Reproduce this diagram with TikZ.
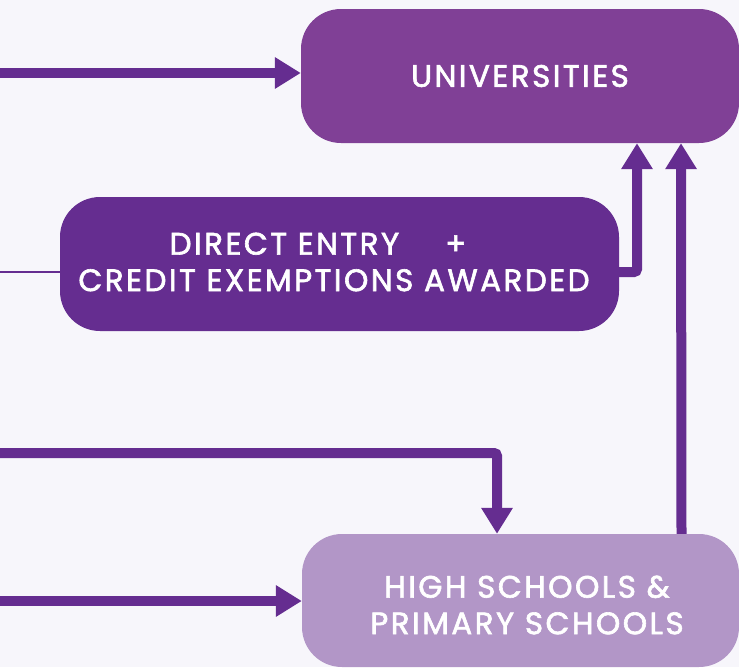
\documentclass[tikz,border=0pt]{standalone}
\usepackage{fontspec}
\setmainfont{Poppins}[LetterSpace=8,FakeBold=2]
\usetikzlibrary{arrows.meta}
\definecolor{bg}{HTML}{F7F6FB}
\definecolor{unicol}{HTML}{804096}
\definecolor{darkcol}{HTML}{652D90}
\definecolor{lightcol}{HTML}{B296C7}
\begin{document}
\begin{tikzpicture}[x=1pt,y=-1pt,
  box/.style={rounded corners=40pt, minimum height=134pt, inner sep=0pt},
  lbl/.style={text=white, align=center, inner sep=0pt,
    font=\fontsize{31}{36.5}\selectfont},
  conn/.style={draw=darkcol, line width=10pt, rounded corners=3pt,
    -{Triangle[width=30pt,length=26pt]}},
  thin/.style={draw=darkcol, line width=1.2pt},
]
\fill[bg] (0,0) rectangle (739,667);
\useasboundingbox (0,0) rectangle (739,667);

\node[box, fill=unicol, minimum width=438pt] (uni) at (520,76) {};
\node[box, fill=darkcol, minimum width=559pt] (de) at (339.5,264) {};
\node[box, fill=lightcol, minimum width=437pt, minimum height=133pt] (hs) at (520.5,600.5) {};

\node[lbl] (unitext) at (520,76) {UNIVERSITIES};
\node[lbl] (detext) at (334,262)
  {DIRECT ENTRY\hspace{46pt}+\hspace*{32pt}\\ CREDIT EXEMPTIONS AWARDED};
\node[lbl] (hstext) at (527,605) {HIGH SCHOOLS \&\\ PRIMARY SCHOOLS};

\coordinate (in1) at (0,73);
\coordinate (in2) at (0,272);
\coordinate (in3) at (0,453);
\coordinate (in4) at (0,601);

\draw[conn] (in1) -- (uni.west |- in1);
\draw[thin] (in2) -- (de.west |- in2);
\draw[conn] (de.east |- in2) -| ([xshift=117pt]uni.south);
\draw[conn] ([xshift=161pt]hs.north) -- ([xshift=161pt]uni.south);
\draw[conn] (in3) -| ([xshift=-23.5pt]hs.north);
\draw[conn] (in4) -- (hs.west |- in4);
\end{tikzpicture}
\end{document}
